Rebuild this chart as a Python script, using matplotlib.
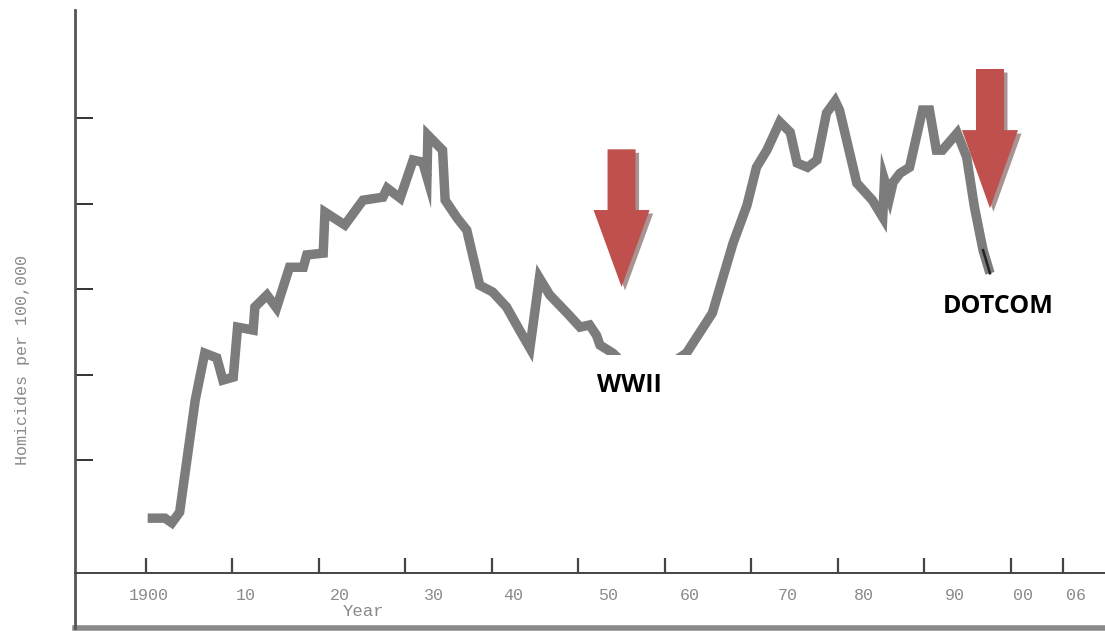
import matplotlib
matplotlib.use("Agg")
import matplotlib.pyplot as plt
from matplotlib.patches import Polygon, Rectangle
from matplotlib.transforms import offset_copy

# ---- data ----
years = [1900.2, 1902.2, 1903.0, 1903.9, 1905.7, 1906.8, 1908.2, 1908.9, 1910.1, 1910.6,
         1912.4, 1912.6, 1914.0, 1915.1, 1916.6, 1918.2, 1918.6, 1920.5, 1920.7, 1923.0,
         1925.1, 1927.4, 1927.9, 1929.4, 1930.9, 1932.0, 1932.5, 1932.6, 1934.3, 1934.6,
         1936.0, 1937.1, 1938.6, 1940.1, 1941.7, 1943.2, 1944.4, 1945.5, 1946.7, 1948.7,
         1950.2, 1951.3, 1952.1, 1952.5, 1954.0, 1955.5, 1957.5, 1959.5, 1961.0, 1962.5,
         1964.0, 1965.5, 1966.7, 1967.9, 1969.5, 1970.6, 1971.8, 1973.3, 1974.5, 1975.3,
         1976.5, 1977.6, 1978.7, 1979.7, 1980.2, 1982.2, 1984.0, 1985.2, 1985.4, 1986.0,
         1986.4, 1987.2, 1988.3, 1989.8, 1990.6, 1991.4, 1992.1, 1993.8, 1994.9, 1995.8,
         1996.8, 1997.6]
rates = [0.64, 0.64, 0.53, 0.78, 3.40, 4.50, 4.39, 3.87, 3.94, 5.11,
         5.04, 5.58, 5.86, 5.56, 6.51, 6.51, 6.80, 6.84, 7.80, 7.50,
         8.08, 8.15, 8.36, 8.13, 9.02, 8.97, 8.62, 9.60, 9.25, 8.08,
         7.66, 7.38, 6.09, 5.93, 5.58, 5.04, 4.62, 6.26, 5.86, 5.44,
         5.11, 5.16, 4.92, 4.69, 4.50, 4.20, 4.00, 4.10, 4.30, 4.50,
         4.97, 5.44, 6.26, 7.08, 7.96, 8.85, 9.25, 9.91, 9.67, 8.95,
         8.85, 9.02, 10.12, 10.40, 10.19, 8.48, 8.08, 7.68, 8.55, 8.15,
         8.50, 8.71, 8.85, 10.19, 10.19, 9.25, 9.25, 9.65, 9.09, 7.92,
         6.91, 6.37]

tick_years = [1900, 1910, 1920, 1930, 1940, 1950, 1960, 1970, 1980, 1990, 2000, 2006]
label_years = [1900.3, 1911.6, 1922.4, 1933.3, 1942.5, 1953.4, 1962.9, 1974.2, 1983.0,
               1993.5, 2001.4, 2007.6]
tick_labels = ["1900", "10", "20", "30", "40", "50", "60", "70", "80", "90", "00", "06"]
y_ticks = [2, 4, 6, 8, 10]

annotations = [("WWII", 1955.95, 3.75), ("DOTCOM", 1998.6, 5.60)]
# arrows: (center year, top, head base, tip)
arrows = [(1955.0, 9.27, 7.85, 6.05), (1997.6, 11.15, 9.72, 7.89)]

# ---- figure ----
W, H = 1105, 631
fig = plt.figure(figsize=(W / 100, H / 100), dpi=100)
ax = fig.add_axes([75 / W, 3 / H, (W - 75) / W, (628 - 10) / H])
ax.set_xlim(1891.8, 2010.9)
ax.set_ylim(-1.93, 12.53)

gray_line = "#7c7c7c"
ax.plot(years, rates, color=gray_line, lw=6.8, solid_joinstyle="miter",
        solid_capstyle="butt", zorder=2)
# dark ending stroke
ax.plot(years[-2:], rates[-2:], color="#222222", lw=1.8, zorder=2.5)

# white mask below the WWII trough (as in the scan)
ax.add_patch(Rectangle((1951.5, 2.3), 14.0, 4.45 - 2.3, facecolor="white",
                       edgecolor="none", zorder=3))

# spines
for s in ("top", "right"):
    ax.spines[s].set_visible(False)
ax.spines["left"].set_color("#555555")
ax.spines["left"].set_linewidth(2.0)
ax.spines["bottom"].set_position(("data", -0.643))
ax.spines["bottom"].set_color("#444444")
ax.spines["bottom"].set_linewidth(1.4)
ax.axhline(-1.93, color="#8a8a8a", lw=4, clip_on=False, zorder=1)

# ticks
ax.xaxis.remove_overlapping_locs = False
ax.set_xticks(tick_years)
ax.set_xticklabels([])
ax.set_xticks(label_years, minor=True)
ax.set_xticklabels(tick_labels, minor=True, family="Liberation Mono",
                   fontsize=12, color="#8a8a8a")
ax.tick_params(axis="x", which="major", direction="in", length=11, width=1.6,
               color="#444444")
ax.tick_params(axis="x", which="minor", length=0, pad=11)
ax.set_yticks(y_ticks)
ax.set_yticklabels([])
ax.tick_params(axis="y", direction="in", length=13, width=1.4, color="#333333")

ax.text(1925.2, -1.54, "Year", family="Liberation Mono", fontsize=12.5,
        color="#8a8a8a", ha="center", va="center")
ax.text(-0.051, 0.434, "Homicides per 100,000", transform=ax.transAxes,
        rotation=90, family="Liberation Mono", fontsize=12, color="#8a8a8a",
        ha="center", va="center")

# arrows
red = "#c0504d"
shadow_tr = offset_copy(ax.transData, fig=fig, x=3.5, y=-3.5, units="dots")
for cx, top, base, tip in arrows:
    sw, hw = 1.62, 3.24
    pts = [(cx - sw, top), (cx + sw, top), (cx + sw, base), (cx + hw, base),
           (cx, tip), (cx - hw, base), (cx - sw, base)]
    ax.add_patch(Polygon(pts, closed=True, facecolor="#a89292", edgecolor="none",
                         transform=shadow_tr, zorder=4))
    ax.add_patch(Polygon(pts, closed=True, facecolor=red, edgecolor="none",
                         zorder=5))

for txt, x, y in annotations:
    ax.text(x, y, txt, family=["Open Sans", "DejaVu Sans"], fontweight="bold",
            fontsize=18, color="black", ha="center", va="center", zorder=6)

fig.savefig("out.png", dpi=100, facecolor="white")
